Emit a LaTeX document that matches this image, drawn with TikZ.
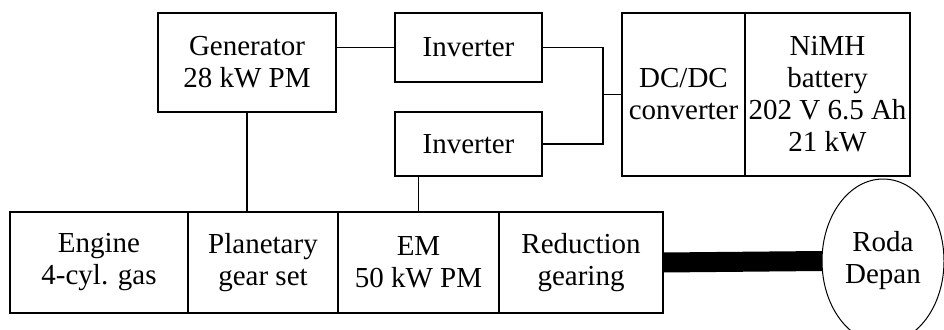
\documentclass[tikz,border=0pt]{standalone}
\usepackage{fontspec}
\setmainfont{LiberationSerif-Regular.ttf}
\usetikzlibrary{positioning,calc,shapes.geometric}

\begin{document}
\begin{tikzpicture}[
    x=1pt, y=-1pt,
    font=\rmfamily\fontsize{29}{32}\selectfont,
    block/.style={
        draw, line width=1.5pt,
        inner sep=0pt, outer sep=0pt,
        align=center
    },
    link/.style={line width=1.5pt},
    shaft/.style={line width=20pt}
]
\useasboundingbox (0,0) rectangle (944,329);
\clip (0,0) rectangle (944,329);

% Upper electrical components
\node[block, minimum width=178pt, minimum height=99pt] (gen) at (247,62.5)
    {Generator\\28 kW PM};
\node[block, minimum width=147pt, minimum height=69pt] (invA) at (468.5,47.5)
    {Inverter};
\node[block, minimum width=147pt, minimum height=64pt] (invB) at (468.5,144)
    {Inverter};
\node[block, minimum width=123pt, minimum height=163pt] (dcdc) at (683.5,94.5)
    {DC/DC\\converter};
\node[block, minimum width=165pt, minimum height=163pt, right=0pt of dcdc] (batt)
    {NiMH\\battery\\202 V 6.5 Ah\\21 kW};

% Drive train row
\node[block, minimum width=178pt, minimum height=101pt] (engine) at (99,262.5)
    {Engine\\4-cyl. gas};
\node[block, minimum width=150pt, minimum height=101pt, right=0pt of engine] (pgs)
    {Planetary\\gear set};
\node[block, minimum width=161pt, minimum height=101pt, right=0pt of pgs] (em)
    {EM\\50 kW PM};
\node[block, minimum width=164pt, minimum height=101pt, right=0pt of em] (redux)
    {Reduction\\gearing};

% Front wheel
\node[draw, line width=1pt, ellipse, minimum width=122pt, minimum height=164pt,
      inner sep=0pt, outer sep=0pt, align=center] (wheel) at (883,261)
    {Roda\\Depan};

% Connections
\coordinate (bus) at (603,95);
\draw[link] (invA.west) -- (invA.west -| gen.east);
\draw[link] (gen.south) -- (gen.south |- pgs.north);
\draw[link] (em.north) -- (em.north |- invB.south);
\draw[link] (invA.east) -| (bus) |- (invB.east);
\draw[link] (dcdc.west) -- (dcdc.west -| bus);
\draw[shaft] (redux.east) -- (wheel.west);

\end{tikzpicture}
\end{document}
